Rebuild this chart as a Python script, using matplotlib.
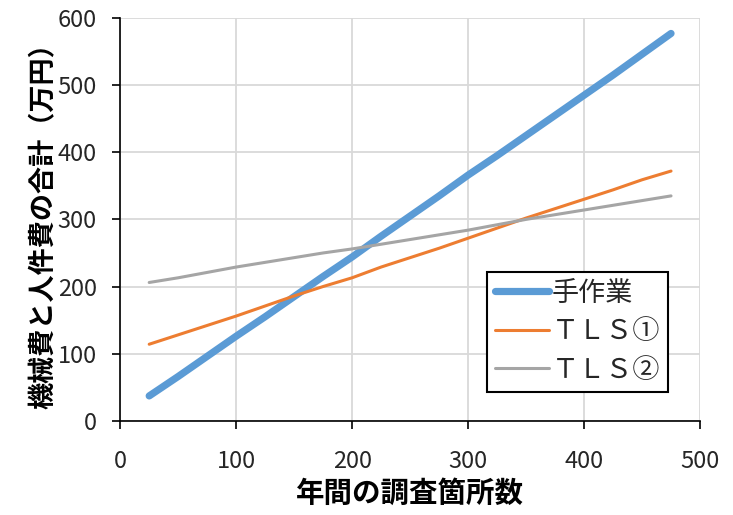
import numpy as np
import matplotlib.pyplot as plt

plt.rcParams['font.family'] = ['Noto Sans CJK JP', 'DejaVu Sans']

# number of survey sites per year
sites = [25, 50, 75, 100, 125, 150, 175, 200, 225, 250,
         275, 300, 325, 350, 375, 400, 425, 450, 475]

# machine + labour cost (10,000 yen)
manual = [37, 66, 96, 126, 155, 185, 215, 244, 275, 305,
          335, 366, 395, 425, 455, 485, 515, 546, 577]
tls1 = [114, 128, 142, 156, 171, 186, 200, 213, 229, 243,
        257, 272, 287, 302, 316, 330, 344, 359, 372]
tls2 = [206, 213, 221, 229, 236, 243, 250, 256, 263, 270,
        277, 284, 292, 300, 307, 314, 321, 328, 335]

labels = ['手作業', 'ＴＬＳ①', 'ＴＬＳ②']

fig = plt.figure(figsize=(7.33, 5.15), dpi=100)
ax = fig.add_axes([0.164, 0.183, 0.791, 0.782])

ax.plot(sites, manual, color='#5B9BD5', linewidth=5.2, solid_capstyle='round', label=labels[0], zorder=3)
ax.plot(sites, tls1, color='#ED7D31', linewidth=2.2, solid_capstyle='round', label=labels[1], zorder=3)
ax.plot(sites, tls2, color='#A5A5A5', linewidth=2.2, solid_capstyle='round', label=labels[2], zorder=3)

ax.set_xlim(0, 500)
ax.set_ylim(0, 600)
ax.set_xticks(np.arange(0, 501, 100))
ax.set_yticks(np.arange(0, 601, 100))
ax.grid(True, color='#d9d9d9', linewidth=1.3, zorder=0)
ax.set_axisbelow(True)

for side in ['top', 'right']:
    ax.spines[side].set_visible(False)
for side in ['left', 'bottom']:
    ax.spines[side].set_color('black')
    ax.spines[side].set_linewidth(1.2)

ax.tick_params(axis='both', direction='out', length=6, width=1.2, labelsize=17,
               colors='black', labelcolor='#262626')
ax.tick_params(axis='x', pad=15)
ax.tick_params(axis='y', pad=11)

ax.set_xlabel('年間の調査箇所数', fontsize=20.5, fontweight='bold', labelpad=5)
ax.set_ylabel('機械費と人件費の合計（万円）', fontsize=19.5, fontweight='bold', labelpad=0)

leg = ax.legend(loc='lower right', bbox_to_anchor=(0.945, 0.072), borderaxespad=0,
                fontsize=19.5, frameon=True, fancybox=False, handlelength=2.0,
                handletextpad=0.1, labelspacing=0.42, borderpad=0.3)
leg.get_frame().set_edgecolor('black')
leg.get_frame().set_linewidth(1.5)
leg.get_frame().set_alpha(1)
for t in leg.get_texts():
    t.set_color('#262626')

fig.savefig('out.png', dpi=100)
